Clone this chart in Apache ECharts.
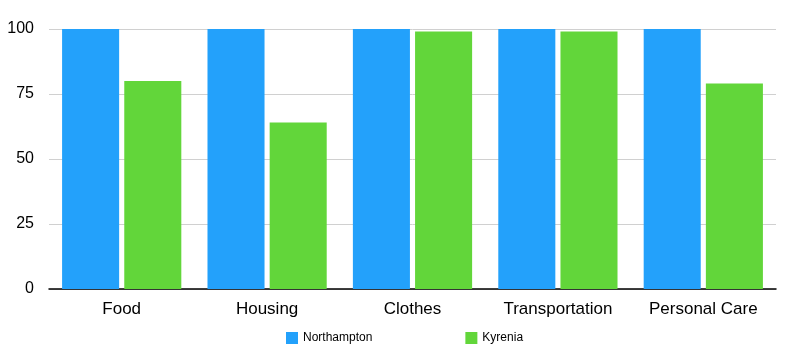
<!DOCTYPE html>
<html>
<head>
<meta charset="utf-8">
<script src="https://cdn.jsdelivr.net/npm/echarts@6/dist/echarts.min.js"></script>
<style>
  html, body { margin: 0; padding: 0; background: #fff; }
  #chart { width: 785px; height: 352px; }
</style>
</head>
<body>
<div id="chart"></div>
<script>
var categories = ['Food', 'Housing', 'Clothes', 'Transportation', 'Personal Care'];
var northampton = [100, 100, 100, 100, 100];
var kyrenia = [80, 64, 99, 99, 79];
var yTicks = [0, 25, 50, 75, 100];

var font = 'Helvetica, Arial, "Liberation Sans", sans-serif';
var myChart = echarts.init(document.getElementById('chart'));
var option = {
    animation: false,
    grid: { left: 49, right: 9, top: 29, bottom: 63 },
    legend: {
        data: ['Northampton', 'Kyrenia'],
        left: 281,
        top: 327,
        itemWidth: 12,
        itemHeight: 12,
        itemGap: 93,
        icon: 'rect',
        textStyle: { fontFamily: font, fontSize: 12, color: '#000' }
    },
    xAxis: {
        type: 'category',
        data: categories,
        axisLine: { lineStyle: { color: '#000', width: 1.5 } },
        axisTick: { show: false },
        axisLabel: { fontFamily: font, fontSize: 17, color: '#000', margin: 12 }
    },
    yAxis: {
        type: 'value',
        min: yTicks[0],
        max: yTicks[yTicks.length - 1],
        interval: 25,
        axisLine: { show: false },
        axisTick: { show: false },
        splitLine: { lineStyle: { color: '#d0d0d0' } },
        axisLabel: { fontFamily: font, fontSize: 16, color: '#000', margin: 15 }
    },
    series: [
        {
            name: 'Northampton',
            type: 'bar',
            data: northampton,
            itemStyle: { color: '#23a1fb' },
            barGap: '9%',
            barCategoryGap: '18%'
        },
        {
            name: 'Kyrenia',
            type: 'bar',
            data: kyrenia,
            itemStyle: { color: '#62d63a' }
        }
    ]
};
myChart.setOption(option);
</script>
</body>
</html>
